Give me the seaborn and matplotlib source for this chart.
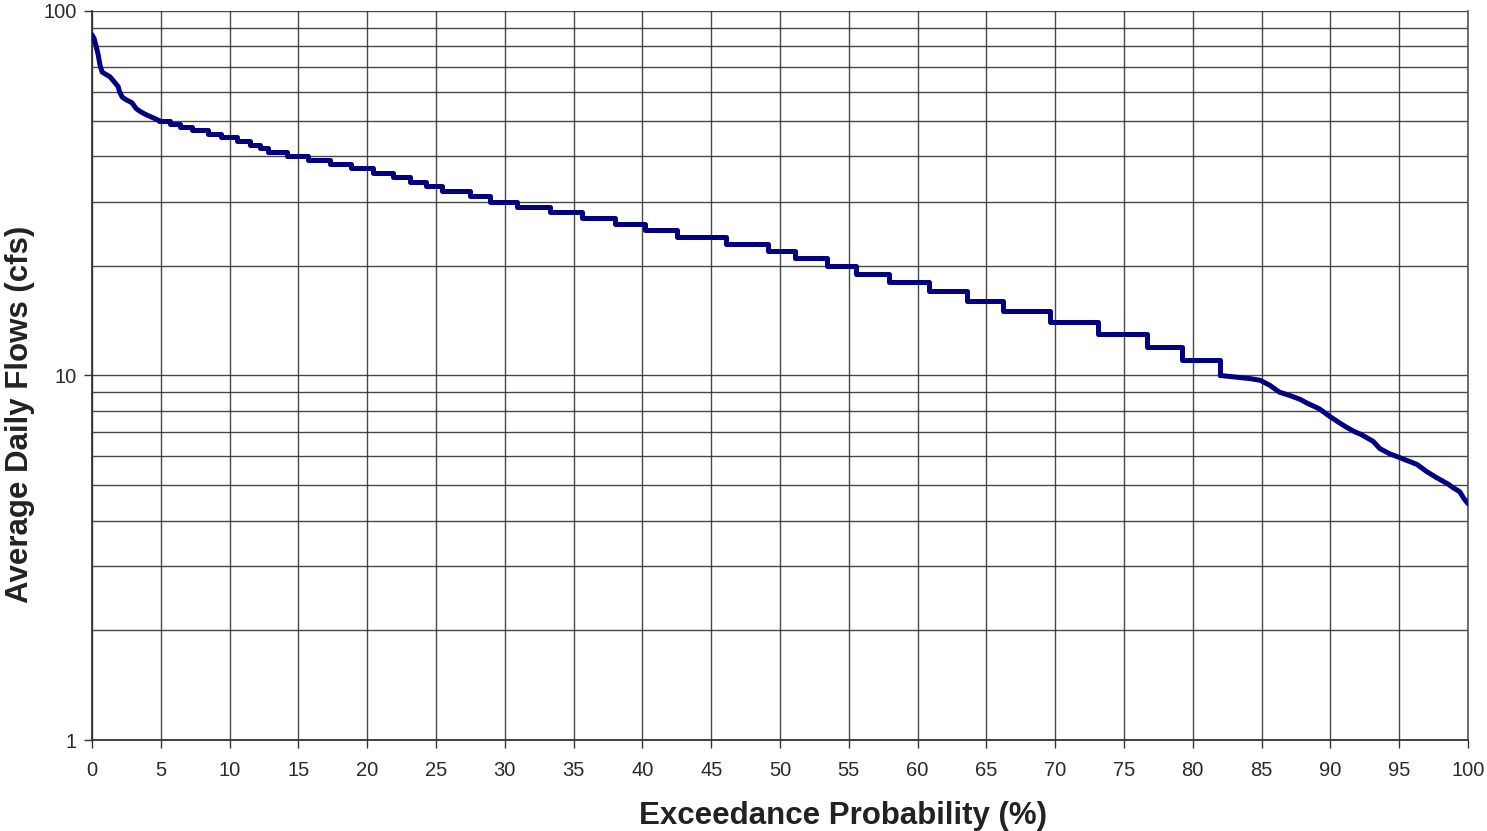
import numpy as np
import pandas as pd
import matplotlib
matplotlib.use("Agg")
import matplotlib.pyplot as plt
import matplotlib.ticker as mticker
import seaborn as sns

# Flow duration curve: exceedance probability (%) where each flow level begins
exceedance = [
    0.0, 0.15, 0.3, 0.44, 0.58, 0.73, 1.0, 1.3, 1.6, 1.9, 2.0, 2.2, 2.5, 2.9,
    3.2, 3.5, 3.9, 4.4, 4.9, 5.7, 6.4, 7.3, 8.4, 9.4, 10.5, 11.5, 12.2, 12.8,
    14.2, 15.7, 17.3, 18.8, 20.4, 21.9, 23.1, 24.3, 25.4, 27.5, 28.9, 30.9,
    33.3, 35.6, 38.0, 40.2, 42.5, 46.1, 49.1, 51.1, 53.4, 55.5, 57.9, 60.8,
    63.6, 66.2, 69.6, 73.1, 76.7, 79.2, 82.0,
    84.2, 84.9, 85.6, 86.3, 87.1, 87.8, 88.3, 89.2, 90.0, 90.7, 91.2, 91.8,
    92.2, 93.1, 93.6, 94.3, 94.8, 95.8, 96.3, 97.0, 97.7, 98.5, 99.0, 99.4,
    99.7, 99.9, 100.0,
]
flow_cfs = [
    86, 84, 80, 76, 71, 68, 67, 66, 64, 62, 60, 58, 57, 56,
    54, 53, 52, 51, 50, 49, 48, 47, 46, 45, 44, 43, 42, 41,
    40, 39, 38, 37, 36, 35, 34, 33, 32, 31, 30, 29,
    28, 27, 26, 25, 24, 23, 22, 21, 20, 19, 18, 17,
    16, 15, 14, 13, 12, 11, 10,
    9.8, 9.7, 9.4, 9.0, 8.8, 8.6, 8.4, 8.1, 7.7, 7.4, 7.2, 7.0,
    6.9, 6.6, 6.3, 6.1, 6.0, 5.8, 5.7, 5.45, 5.25, 5.05, 4.9, 4.8,
    4.6, 4.5, 4.45,
]

x_ticks = list(range(0, 101, 5))
y_ticks = [1, 10, 100]

df = pd.DataFrame({"exceedance": exceedance, "flow": flow_cfs})
# whole-cfs levels show as flat steps; the high and low tails read as smooth
stepped = (df["flow"] <= 50) & (df["flow"] >= 10)
head = df[df["flow"] >= 50]
body = df[stepped]
tail = df[df["flow"] <= 10]
# carry the last step out to where the tail begins
body = pd.concat([body, tail.iloc[[0]]], ignore_index=True)

sns.set_theme(style="white")
plt.rcParams["font.family"] = ["Liberation Sans", "DejaVu Sans"]

fig = plt.figure(figsize=(14.87, 8.31), dpi=100)
ax = fig.add_axes([0.0619, 0.1095, 0.9253, 0.8773])

line_kw = dict(color="#000080", linewidth=3.6, solid_joinstyle="round",
               solid_capstyle="round", zorder=3)
sns.lineplot(data=head, x="exceedance", y="flow", ax=ax, **line_kw)
sns.lineplot(data=body, x="exceedance", y="flow", ax=ax,
             drawstyle="steps-post", **line_kw)
sns.lineplot(data=tail, x="exceedance", y="flow", ax=ax, **line_kw)

ax.set_yscale("log")
ax.set_xlim(0, 100)
ax.set_ylim(1, 100)
ax.set_xticks(x_ticks)
ax.set_yticks(y_ticks)
ax.yaxis.set_major_formatter(mticker.FuncFormatter(lambda v, p: f"{v:g}"))
ax.yaxis.set_minor_locator(mticker.LogLocator(base=10, subs=np.arange(2, 10)))
ax.yaxis.set_minor_formatter(mticker.NullFormatter())

grid_kw = dict(color="#333333", linewidth=1.0, alpha=0.9)
ax.grid(True, which="major", axis="both", **grid_kw)
ax.grid(True, which="minor", axis="y", **grid_kw)

ax.spines["top"].set_visible(False)
ax.spines["right"].set_color("#555555")
ax.spines["right"].set_linewidth(1.2)
for side in ["left", "bottom"]:
    ax.spines[side].set_color("#333333")
    ax.spines[side].set_linewidth(1.3)

ax.tick_params(axis="both", which="major", direction="out", length=6,
               width=1.0, color="#333333", labelsize=14.5, labelcolor="#2a2a2a",
               left=True, bottom=True)
ax.tick_params(axis="x", which="major", pad=9)
ax.tick_params(axis="y", which="major", pad=5)
ax.tick_params(axis="y", which="minor", left=False)

ax.set_xlabel("Exceedance Probability (%)", fontsize=22.5, fontweight="bold",
              color="#222222")
ax.set_ylabel("Average Daily Flows (cfs)", fontsize=22.5, fontweight="bold",
              color="#222222")
ax.xaxis.set_label_coords(0.546, -0.084)
ax.yaxis.set_label_coords(-0.0414, 0.447)

fig.savefig("out.png", dpi=100, facecolor="white")
